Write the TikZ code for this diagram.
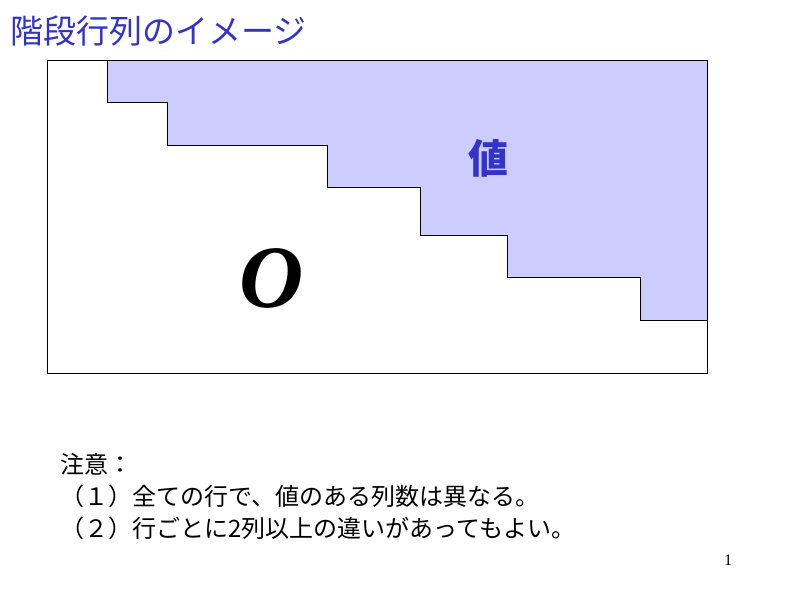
\documentclass[tikz,border=0pt]{standalone}
\usepackage{fontspec}
\setmainfont{Liberation Serif}
\newfontfamily\jpfont{Noto Sans CJK JP}
\definecolor{titleblue}{RGB}{51,51,204}
\definecolor{valuefill}{RGB}{204,204,255}

\begin{document}
\begin{tikzpicture}[x=1pt, y=-1pt, line width=1pt]

    % Page Frame
    \useasboundingbox (0,0) rectangle (800,600);

    % Draw Title
    \node[anchor=base west, inner sep=0, text=titleblue, font=\jpfont\fontsize{33}{33}\selectfont] (title) at (10,43) {階段行列のイメージ};

    % Draw Matrix
    \filldraw[fill=valuefill] (107,60) -- (707,60) -- (707,320) -- (640,320) -- (640,277) -- (507,277)
      -- (507,235) -- (420,235) -- (420,187) -- (327,187) -- (327,145) -- (167,145) -- (167,102)
      -- (107,102) -- cycle;                                       % Shade Values
    \draw (47,60) rectangle (707,373);                             % Draw Frame

    % Draw Labels
    \node[text=titleblue, font=\jpfont\bfseries\fontsize{40}{40}\selectfont] (value) at (488,158) {値};
    \node[font=\bfseries\itshape\fontsize{89}{89}\selectfont] (zero) at (272,278) {O};

    % Draw Notes
    \foreach \line [count=\i] in {注意：, （１）全ての行で、値のある列数は異なる。, （２）行ごとに2列以上の違いがあってもよい。}{
      \node[anchor=base west, inner sep=0, font=\jpfont\fontsize{24}{24}\selectfont] (note\i) at (60, 441+32*\i) {\line};
    }
    \node[anchor=base, inner sep=0, font=\fontsize{16}{16}\selectfont] (page) at (728,565) {1};
\end{tikzpicture}
\end{document}
